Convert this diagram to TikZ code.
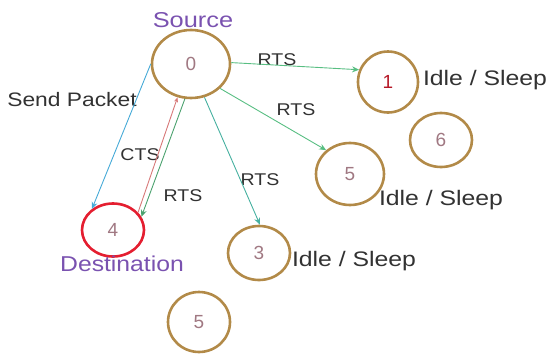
\documentclass[tikz,border=0pt]{standalone}
\usepackage{fontspec}
\setmainfont{Liberation Sans}
\usetikzlibrary{shapes.geometric,arrows.meta}
\definecolor{ring}{RGB}{178,138,72}
\definecolor{redring}{RGB}{228,30,48}
\definecolor{digit}{RGB}{160,120,130}
\definecolor{purp}{RGB}{122,82,176}
\definecolor{txt}{RGB}{50,50,50}
\definecolor{agreen}{RGB}{88,190,130}
\definecolor{ateal}{RGB}{70,176,160}
\definecolor{acyan}{RGB}{70,170,215}
\definecolor{apink}{RGB}{215,120,120}
\tikzset{
  nd/.style={ellipse, draw=ring, line width=2.6pt, inner sep=0pt, text=digit,
    font=\fontsize{19}{19}\selectfont},
  big/.style={text=txt, inner sep=0pt, font=\fontsize{21}{21}\selectfont},
  purpl/.style={text=purp, inner sep=0pt, font=\fontsize{21.5}{21.5}\selectfont},
  small/.style={text=txt, inner sep=0pt, font=\fontsize{17}{17}\selectfont},
  conn/.style={line width=0.9pt, -{Stealth[length=7pt,width=6pt]}},
}
\begin{document}
\begin{tikzpicture}[x=1pt,y=-1pt]
\useasboundingbox (0,0) rectangle (550,354);
% nodes
\node[nd, minimum width=78pt, minimum height=68pt] (n0) at (191,64) {0};
\node[nd, minimum width=60pt, minimum height=61pt, text=redring!80!black] (n1) at (388,82) {1};
\node[nd, minimum width=62pt, minimum height=54pt] (n6) at (441,140) {6};
\node[nd, minimum width=68pt, minimum height=62pt] (n5a) at (350,174) {5};
\node[nd, draw=redring, minimum width=62pt, minimum height=53pt] (n4) at (113,230) {4};
\node[nd, minimum width=62pt, minimum height=54pt] (n3) at (259,253) {3};
\node[nd, minimum width=62pt, minimum height=60pt] (n5b) at (199,322) {5};
% labels
\node[purpl] (lsrc) at (193,20) {\scalebox{1.18}[1]{Source}};
\node[purpl] (ldst) at (122,264) {\scalebox{1.15}[1]{Destination}};
\node[big] (lsend) at (72,100) {\scalebox{1.17}[1]{\fontsize{19.5}{19.5}\selectfont Send Packet}};
\node[big] (li1) at (485,80) {\scalebox{1.18}[1]{Idle / Sleep}};
\node[big] (li2) at (441,200) {\scalebox{1.18}[1]{Idle / Sleep}};
\node[big] (li3) at (354,261) {\scalebox{1.18}[1]{Idle / Sleep}};
\node[small] (r1) at (277,60) {\scalebox{1.15}[1]{RTS}};
\node[small] (r2) at (296,110) {\scalebox{1.15}[1]{RTS}};
\node[small] (r3) at (260,180) {\scalebox{1.15}[1]{RTS}};
\node[small] (r4) at (183,196) {\scalebox{1.15}[1]{RTS}};
\node[small] (c1) at (140,155) {\scalebox{1.15}[1]{CTS}};
% connectors
\draw[conn, agreen] (n0.2) -- (n1.157);
\draw[conn, agreen] (n0.-40) -- (n5a.135);
\draw[conn, ateal] (n0.-68) -- (n3.88);
\draw[conn, acyan] (n0.180) -- (n4.135);
\draw[conn, apink, -{Stealth[length=5pt,width=4pt]}] (n4.35) -- (n0.-112);
\draw[conn, agreen!85!black] (n0.-100) -- (n4.25);
\end{tikzpicture}
\end{document}
